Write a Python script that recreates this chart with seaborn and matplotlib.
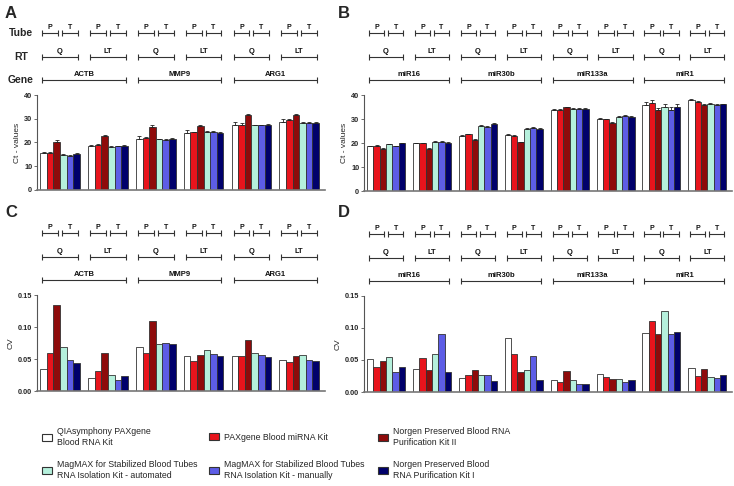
import numpy as np
import pandas as pd
import seaborn as sns
import matplotlib.pyplot as plt
from matplotlib.patches import Patch
from matplotlib import transforms

sns.set_theme(style='ticks')
plt.rcParams['font.family'] = ['Liberation Sans', 'DejaVu Sans']

kits = ['QIAsymphony PAXgene\nBlood RNA Kit',
        'PAXgene Blood miRNA Kit',
        'Norgen Preserved Blood RNA\nPurification Kit II',
        'MagMAX for Stabilized Blood Tubes\nRNA Isolation Kit - automated',
        'MagMAX for Stabilized Blood Tubes\nRNA Isolation Kit - manually',
        'Norgen Preserved Blood\nRNA Purification Kit I']
colors = ['#ffffff', '#e8141c', '#8e0b0b', '#b5f0dc', '#5d5de6', '#00006b']

genes_a = ['ACTB', 'MMP9', 'ARG1']
genes_b = ['miR16', 'miR30b', 'miR133a', 'miR1']
rt_labels = ['Q', 'LT']
tube_labels = ['P', 'T']

# one row per gene / RT group (Q, LT, Q, LT ...), one column per kit
ct_a = [[15.5, 15.7, 20.3, 14.7, 14.4, 15.2],
        [18.6, 19.0, 22.7, 18.2, 18.4, 18.6],
        [21.4, 22.0, 26.7, 21.3, 21.1, 21.5],
        [24.0, 24.3, 27.1, 24.4, 24.5, 24.0],
        [27.4, 27.5, 31.4, 27.2, 27.2, 27.5],
        [28.6, 29.3, 31.6, 28.2, 28.3, 28.3]]
err_a = [[0.4, 0.3, 0.6, 0.3, 0.2, 0.3],
         [0.3, 0.3, 0.4, 0.2, 0.2, 0.2],
         [1.2, 0.4, 0.8, 0.3, 0.3, 0.3],
         [1.1, 0.3, 0.4, 0.3, 0.3, 0.3],
         [1.2, 0.5, 0.6, 0.3, 0.3, 0.3],
         [1.1, 0.4, 0.4, 0.3, 0.3, 0.3]]

ct_b = [[18.6, 18.8, 17.7, 19.4, 18.6, 19.9],
        [19.9, 19.9, 17.5, 20.6, 20.6, 20.1],
        [22.9, 23.6, 21.4, 27.2, 26.6, 27.9],
        [23.2, 22.8, 20.3, 25.8, 26.2, 25.9],
        [33.7, 33.7, 34.8, 34.3, 34.3, 34.2],
        [30.1, 29.9, 28.3, 30.9, 31.2, 31.0],
        [35.9, 36.8, 33.9, 35.0, 33.9, 35.2],
        [37.8, 37.0, 35.9, 36.4, 36.0, 36.1]]
err_b = [[0.3, 0.3, 0.3, 0.3, 0.3, 0.3],
         [0.3, 0.3, 0.3, 0.3, 0.4, 0.3],
         [0.3, 0.3, 0.3, 0.3, 0.3, 0.3],
         [0.4, 0.4, 0.3, 0.3, 0.3, 0.3],
         [0.3, 0.3, 0.4, 0.3, 0.3, 0.3],
         [0.3, 0.3, 0.3, 0.3, 0.3, 0.3],
         [1.0, 1.2, 0.8, 1.2, 1.0, 1.0],
         [0.4, 0.4, 0.4, 0.3, 0.3, 0.3]]

cv_c = [[0.035, 0.059, 0.135, 0.069, 0.048, 0.043],
        [0.020, 0.031, 0.060, 0.025, 0.017, 0.023],
        [0.068, 0.059, 0.110, 0.074, 0.075, 0.073],
        [0.054, 0.047, 0.057, 0.064, 0.058, 0.054],
        [0.054, 0.054, 0.080, 0.060, 0.057, 0.053],
        [0.049, 0.045, 0.055, 0.057, 0.049, 0.047]]

cv_d = [[0.052, 0.039, 0.049, 0.054, 0.032, 0.039],
        [0.036, 0.053, 0.035, 0.060, 0.090, 0.032],
        [0.022, 0.027, 0.034, 0.026, 0.026, 0.017],
        [0.085, 0.060, 0.032, 0.035, 0.056, 0.018],
        [0.019, 0.016, 0.033, 0.018, 0.012, 0.012],
        [0.028, 0.023, 0.021, 0.020, 0.016, 0.019],
        [0.092, 0.111, 0.091, 0.127, 0.090, 0.093],
        [0.037, 0.025, 0.036, 0.024, 0.022, 0.027]]

PERIOD = 7.25
W, H = 734, 486
LINE = '#333333'


def long_table(values, errors=None):
    rows = []
    for g, vals in enumerate(values):
        for k, v in enumerate(vals):
            rows.append({'pos': g * PERIOD + k, 'kit': kits[k], 'value': v,
                         'err': errors[g][k] if errors else 0.0})
    return pd.DataFrame(rows)


def bracket(ax, x0, x1, yf, label, fs):
    tr = ax.get_xaxis_transform()
    ax.plot([x0, x1], [yf, yf], transform=tr, color=LINE, lw=0.8,
            marker='|', markersize=4, markeredgewidth=0.8, clip_on=False)
    ax.annotate(label, ((x0 + x1) / 2, yf), xycoords=tr, xytext=(0, 1.5),
                textcoords='offset points', ha='center', va='bottom',
                fontsize=fs, fontweight='bold', color='#111111')


def panel(box, values, errors, genes, ymax, yticks, yfmt, ylabel, row_labels=False):
    left, top, right, bottom = box
    ax = fig.add_axes([left / W, 1 - bottom / H, (right - left) / W, (bottom - top) / H])
    hpx = bottom - top
    df = long_table(values, errors)
    sns.barplot(data=df, x='pos', y='value', hue='kit', hue_order=kits,
                palette=colors, native_scale=True, dodge=False, width=1.0,
                saturation=1, errorbar=None, legend=False,
                edgecolor=LINE, linewidth=0.6, ax=ax)
    if errors:
        ax.errorbar(df['pos'], df['value'], yerr=[np.zeros(len(df)), df['err']],
                    fmt='none', ecolor='#222222', elinewidth=0.6, capsize=1.3,
                    capthick=0.6, zorder=3)
    ng = len(values)
    ax.set_xlim(-1.0, (ng - 1) * PERIOD + 6.4)
    ax.set_ylim(0, ymax)
    ax.set_yticks(yticks)
    ax.set_yticklabels([yfmt.format(t) for t in yticks], fontweight='bold')
    ax.set_xticks([])
    ax.set_xlabel('')
    ax.set_ylabel(ylabel, fontsize=6, labelpad=2)
    sns.despine(ax=ax)
    ax.spines['left'].set_color('#555555')
    ax.spines['left'].set_linewidth(0.8)
    ax.spines['bottom'].set_color('#777777')
    ax.spines['bottom'].set_linewidth(1.2)
    ax.tick_params(axis='y', labelsize=5.3, length=2.5, width=0.6, pad=1,
                   color='#555555')

    y_tube = 1 + 62 / hpx
    y_rt = 1 + 38 / hpx
    y_gene = 1 + 15 / hpx
    for g in range(ng):
        x0 = g * PERIOD - 0.5 + 0.3
        x1 = g * PERIOD + 5.5 - 0.3
        mid = g * PERIOD + 2.5
        bracket(ax, x0, mid - 0.3, y_tube, tube_labels[0], 5)
        bracket(ax, mid + 0.3, x1, y_tube, tube_labels[1], 5)
        bracket(ax, x0, x1, y_rt, rt_labels[g % 2], 5.5)
    for j, gene in enumerate(genes):
        x0 = 2 * j * PERIOD - 0.5 + 0.3
        x1 = (2 * j + 1) * PERIOD + 5.5 - 0.3
        bracket(ax, x0, x1, y_gene, gene, 5.5)
    if row_labels:
        tr = transforms.blended_transform_factory(fig.transFigure, ax.transAxes)
        for name, yf in zip(['Tube', 'RT', 'Gene'], [y_tube, y_rt, y_gene]):
            ax.text(21 / W, yf, name, transform=tr, ha='center', va='center',
                    fontsize=7.5, fontweight='bold')
    return ax


fig = plt.figure(figsize=(7.34, 4.86), dpi=100)

panel((37, 95, 325, 190), ct_a, err_a, genes_a, 40, [0, 10, 20, 30, 40], '{:g}',
      'Ct - values', row_labels=True)
panel((364, 95, 732, 191), ct_b, err_b, genes_b, 40, [0, 10, 20, 30, 40], '{:g}',
      'Ct - values')
panel((37, 295, 325, 391), cv_c, None, genes_a, 0.15, [0, 0.05, 0.10, 0.15], '{:.2f}',
      'CV')
panel((364, 296, 732, 392), cv_d, None, genes_b, 0.15, [0, 0.05, 0.10, 0.15], '{:.2f}',
      'CV')

for letter, (x, y) in zip('ABCD', [(11, 13), (344, 13), (11, 212), (344, 212)]):
    fig.text(x / W, 1 - y / H, letter, ha='center', va='center',
             fontsize=12, fontweight='bold')

# legend: 3 columns x 2 rows
col_x = [42, 209, 378]
row_y = [437, 470]
for k, (kit, color) in enumerate(zip(kits, colors)):
    x = col_x[k % 3]
    y = row_y[k // 3]
    fig.legend(handles=[Patch(facecolor=color, edgecolor=LINE, linewidth=0.8)],
               labels=[kit], loc='center left', bbox_to_anchor=(x / W, 1 - y / H),
               frameon=False, borderpad=0, borderaxespad=0, fontsize=6.3,
               handlelength=1.15, handleheight=0.75, handletextpad=0.55)

fig.savefig('out.png', dpi=100)
